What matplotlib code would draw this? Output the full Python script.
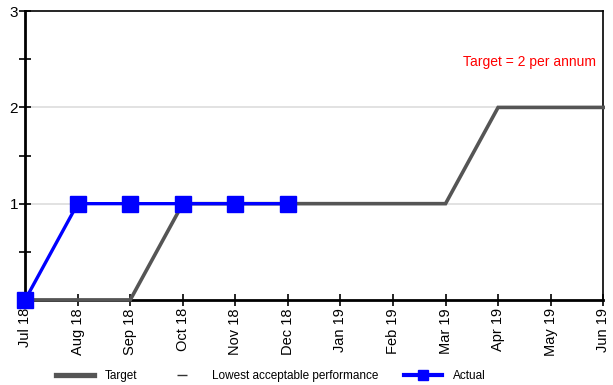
import matplotlib
matplotlib.use("Agg")
import matplotlib.pyplot as plt
from matplotlib.lines import Line2D
from matplotlib.ticker import FixedLocator

plt.rcParams['font.family'] = ['Liberation Sans', 'DejaVu Sans']

months = ["Jul 18", "Aug 18", "Sep 18", "Oct 18", "Nov 18", "Dec 18",
          "Jan 19", "Feb 19", "Mar 19", "Apr 19", "May 19", "Jun 19"]
target = [0, 0, 0, 1, 1, 1, 1, 1, 1, 2, 2, 2]
actual = [0, 1, 1, 1, 1, 1]
target_note = "Target = 2 per annum"

fig = plt.figure(figsize=(6.13, 3.85), dpi=100)
ax = fig.add_axes([0.041, 0.221, 0.943, 0.750])

x_all = list(range(len(months)))
ax.set_xlim(0, len(months) - 1)
ax.set_ylim(0, 3)

for y in (1, 2):
    ax.axhline(y, color="#dddddd", lw=1.2, zorder=0)

ax.plot(x_all, target, color="#555555", lw=2.6, solid_capstyle="projecting",
        solid_joinstyle="miter", clip_on=False, zorder=3)
ax.plot(x_all[:len(actual)], actual, color="#0000ff", lw=2.4, marker="s",
        markersize=11, clip_on=False, zorder=4)

ax.text(10.87, 2.47, target_note, color="#ff0000", fontsize=10,
        ha="right", va="center")

ax.set_xticks(x_all)
ax.set_xticklabels(months, rotation=90, fontsize=10.5)
ax.yaxis.set_major_locator(FixedLocator([0, 1, 2, 3]))
ax.set_yticklabels(["", "1", "2", "3"], fontsize=11)
ax.yaxis.set_minor_locator(FixedLocator([0.5, 1.5, 2.5]))

ax.tick_params(axis="x", direction="inout", length=8, width=1.2, pad=2)
ax.tick_params(axis="y", which="both", direction="inout", length=8, width=1.2, pad=1)

for side in ("left", "bottom"):
    ax.spines[side].set_linewidth(2.0)
for side in ("top", "right"):
    ax.spines[side].set_linewidth(1.2)

handles = [
    Line2D([], [], color="#555555", lw=3.8),
    Line2D([], [], color="#333333", marker="_", markersize=7, linestyle="none"),
    Line2D([], [], color="#0000ff", lw=3, marker="s", markersize=7),
]
labels = ["Target", "Lowest acceptable performance", "Actual"]
fig.legend(handles, labels, loc="lower left", bbox_to_anchor=(0.074, -0.02),
           ncol=3, frameon=False, fontsize=8.5, handlelength=3.2,
           columnspacing=2.2, handletextpad=0.93)

fig.savefig("out.png", dpi=100)
